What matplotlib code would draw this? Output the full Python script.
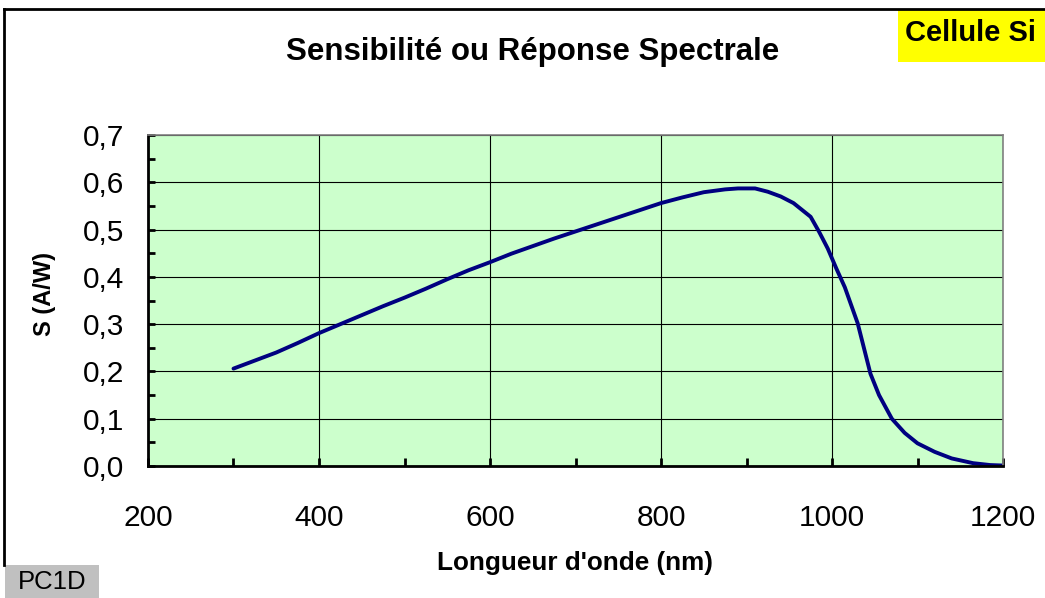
import numpy as np
import matplotlib.pyplot as plt
from matplotlib.lines import Line2D
from matplotlib.patches import Rectangle
from matplotlib.ticker import MultipleLocator, FuncFormatter

plt.rcParams['font.family'] = ['Liberation Sans', 'DejaVu Sans']

# spectral response of the Si cell (PC1D simulation)
wavelength = [300, 325, 350, 375, 400, 425, 450, 475, 500, 525, 550, 575, 600,
              625, 650, 675, 700, 725, 750, 775, 800, 825, 850, 875, 890, 910,
              925, 940, 955, 975, 985, 995, 1005, 1015, 1030, 1045, 1055, 1070,
              1085, 1100, 1120, 1140, 1165, 1185, 1200]
sensitivity = [0.206, 0.223, 0.240, 0.260, 0.281, 0.300, 0.319, 0.338, 0.356,
               0.375, 0.395, 0.414, 0.431, 0.449, 0.465, 0.481, 0.496, 0.511,
               0.526, 0.541, 0.556, 0.568, 0.579, 0.585, 0.587, 0.587, 0.580,
               0.570, 0.556, 0.527, 0.495, 0.460, 0.418, 0.378, 0.302, 0.195,
               0.150, 0.100, 0.070, 0.048, 0.030, 0.016, 0.006, 0.002, 0.001]

W, H = 1045, 598
fig = plt.figure(figsize=(W / 100, H / 100), dpi=100)

def px(x, y):
    return x / W, 1 - y / H

# plot area
left, right, top, bottom = 148, 1003, 135, 466
ax = fig.add_axes([left / W, 1 - bottom / H, (right - left) / W, (bottom - top) / H])
ax.set_facecolor('#CCFFCC')
ax.plot(wavelength, sensitivity, color='#000080', lw=2.8, solid_capstyle='round')

ax.set_xlim(200, 1200)
ax.set_ylim(0, 0.7)
ax.xaxis.set_major_locator(MultipleLocator(200))
ax.xaxis.set_minor_locator(MultipleLocator(100))
ax.yaxis.set_major_locator(MultipleLocator(0.1))
ax.yaxis.set_minor_locator(MultipleLocator(0.05))
ax.yaxis.set_major_formatter(FuncFormatter(lambda v, p: f'{v:.1f}'.replace('.', ',')))

ax.grid(True, which='major', color='black', lw=0.8)
ax.set_axisbelow(True)
ax.tick_params(which='both', direction='in', width=2, length=5, colors='black')
ax.tick_params(axis='x', which='both', length=6)
ax.tick_params(axis='x', which='major', labelsize=21.5, pad=27)
ax.tick_params(axis='y', which='major', labelsize=21.5, pad=17)

for s in ['left', 'bottom']:
    ax.spines[s].set_linewidth(2)
    ax.spines[s].set_color('black')
for s in ['top', 'right']:
    ax.spines[s].set_linewidth(1.2)
    ax.spines[s].set_color('#808080')

# titles and labels
x, y = px(533, 52)
fig.text(x, y, 'Sensibilité ou Réponse Spectrale', ha='center', va='center',
         fontsize=22.5, fontweight='bold')
x, y = px(575, 563)
fig.text(x, y, "Longueur d'onde (nm)", ha='center', va='center',
         fontsize=18.8, fontweight='bold')
x, y = px(45, 294)
fig.text(x, y, 'S (A/W)', ha='center', va='center', rotation=90,
         fontsize=17, fontweight='bold')

# outer frame
fig.add_artist(Line2D([4 / W, 1], [1 - 9 / H, 1 - 9 / H], color='black', lw=2,
                      transform=fig.transFigure))
fig.add_artist(Line2D([4 / W, 4 / W], [1 - 9 / H, 1 - 565 / H], color='black', lw=2,
                      transform=fig.transFigure))

# yellow tag
fig.add_artist(Rectangle(px(898, 62), (W - 898) / W, 52 / H, facecolor='#FFFF00',
                         edgecolor='none', transform=fig.transFigure))
x, y = px(905, 33)
fig.text(x, y, 'Cellule Si', ha='left', va='center', fontsize=21, fontweight='bold')

# grey tag
fig.add_artist(Rectangle(px(5, 598), 94 / W, 33 / H, facecolor='#C0C0C0',
                         edgecolor='none', transform=fig.transFigure))
x, y = px(52, 582)
fig.text(x, y, 'PC1D', ha='center', va='center', fontsize=18.5)

fig.savefig('out.png', dpi=100)
